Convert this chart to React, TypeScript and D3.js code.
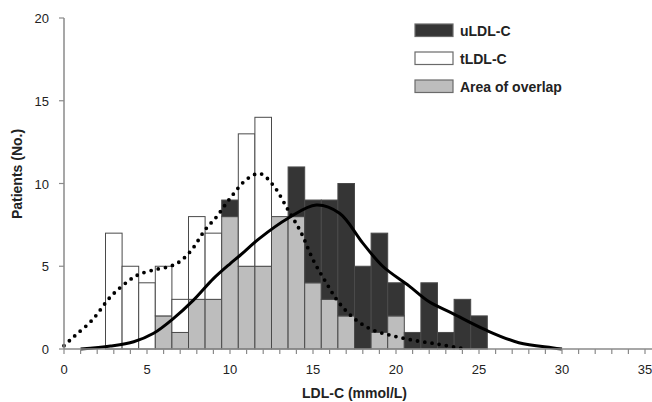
import React, { useRef, useEffect } from 'react';
import * as d3 from 'd3';

// histogram bins (bin centres, mmol/L) and patient counts per group
const bins = [3, 4, 5, 6, 7, 8, 9, 10, 11, 12, 13, 14, 15, 16, 17, 18, 19, 20, 21, 22, 23, 24, 25];
const uLDL = [0, 0, 0, 2, 1, 3, 3, 9, 5, 5, 8, 11, 9, 9, 10, 5, 7, 4, 1, 4, 1, 3, 2];
const tLDL = [7, 5, 4, 5, 3, 8, 7, 8, 13, 14, 8, 8, 4, 3, 2, 0, 1, 2, 0, 0, 0, 0, 0];

// fitted distribution curves
const tCurveX = [0, 0.6, 1.7, 2.8, 3.8, 4.5, 5.5, 6.4, 7.0, 7.7, 8.5, 9.2, 10.0, 11.0, 11.8, 12.6, 13.5, 14.3, 15.0, 15.8, 16.6, 17.6, 18.6, 19.8, 21.2, 22.5, 23.6, 24.0];
const tCurveY = [0.2, 0.75, 1.75, 3.15, 4.05, 4.5, 4.8, 5.0, 5.3, 6.0, 7.2, 8.0, 9.1, 10.25, 10.6, 9.9, 8.4, 7.0, 5.4, 4.0, 2.75, 1.75, 1.15, 0.8, 0.5, 0.3, 0.1, 0.03];
const uCurveX = [1.0, 2.8, 4.2, 5.4, 6.6, 7.8, 9.0, 10.0, 10.6, 11.8, 13.5, 15.2, 16.6, 18.0, 19.2, 20.8, 22.0, 23.4, 25.4, 27.4, 29.4, 30.0];
const uCurveY = [0, 0.18, 0.44, 0.95, 1.85, 2.95, 4.25, 5.15, 5.65, 6.7, 7.9, 8.7, 8.2, 6.4, 5.0, 3.8, 2.85, 2.15, 1.15, 0.38, 0.08, 0];

const xTicks = [0, 5, 10, 15, 20, 25, 30, 35];
const yTicks = [0, 5, 10, 15, 20];

const legendItems = [
  { label: 'uLDL-C', fill: '#353535' },
  { label: 'tLDL-C', fill: '#ffffff' },
  { label: 'Area of overlap', fill: '#bdbdbd' },
];

const W = 652;
const H = 402;
const FONT = '"Liberation Sans", Arial, sans-serif';

const App = () => {
  const svgRef = useRef<SVGSVGElement>(null);

  useEffect(() => {
    document.body.style.margin = '0';
    const svg = d3.select(svgRef.current);
    svg.selectAll('*').remove();

    const x = d3.scaleLinear().domain([0, 35]).range([64, 645]);
    const y = d3.scaleLinear().domain([0, 20]).range([349, 18]);
    const half = 0.5;

    // bars: grey overlap first, then the excess of whichever group is larger
    const rows = bins.map((b, i) => ({ b, u: uLDL[i], t: tLDL[i], lo: Math.min(uLDL[i], tLDL[i]) }));
    const g = svg.append('g');
    const drawRect = (b: number, y0: number, y1: number, fill: string) => {
      if (y1 <= y0) return;
      g.append('rect')
        .attr('x', x(b - half))
        .attr('width', x(b + half) - x(b - half))
        .attr('y', y(y1))
        .attr('height', y(y0) - y(y1))
        .attr('fill', fill)
        .attr('stroke', '#4a4a4a')
        .attr('stroke-width', 1);
    };
    rows.forEach(r => {
      drawRect(r.b, 0, r.lo, '#bdbdbd');
      if (r.u > r.t) drawRect(r.b, r.lo, r.u, '#353535');
      if (r.t > r.u) drawRect(r.b, r.lo, r.t, '#ffffff');
    });

    const line = d3.line<[number, number]>()
      .x(d => x(d[0]))
      .y(d => y(d[1]))
      .curve(d3.curveCatmullRom.alpha(0.5));

    // tLDL-C curve (dotted)
    svg.append('path')
      .attr('d', line(tCurveX.map((v, i) => [v, tCurveY[i]] as [number, number])))
      .attr('fill', 'none')
      .attr('stroke', '#000')
      .attr('stroke-width', 3.8)
      .attr('stroke-linecap', 'round')
      .attr('stroke-dasharray', '0 7.3');

    // uLDL-C curve (solid)
    svg.append('path')
      .attr('d', line(uCurveX.map((v, i) => [v, uCurveY[i]] as [number, number])))
      .attr('fill', 'none')
      .attr('stroke', '#000')
      .attr('stroke-width', 3);

    // x axis with a minor tick at every unit
    const xAxis = svg.append('g').attr('transform', 'translate(0,349)');
    xAxis.append('line')
      .attr('x1', x(0)).attr('x2', W)
      .attr('stroke', '#8a8a8a').attr('stroke-width', 1.5);
    xAxis.selectAll('line.tick')
      .data(d3.range(0, 36))
      .enter().append('line')
      .attr('class', 'tick')
      .attr('x1', d => x(d)).attr('x2', d => x(d))
      .attr('y1', 0).attr('y2', 5)
      .attr('stroke', '#8a8a8a').attr('stroke-width', 1.2);
    xAxis.selectAll('text')
      .data(xTicks)
      .enter().append('text')
      .attr('x', d => x(d))
      .attr('y', 25)
      .attr('text-anchor', 'middle')
      .style('font-family', FONT)
      .style('font-size', '13px')
      .attr('fill', '#222')
      .text(d => d);

    // y axis
    const yAxis = svg.append('g').attr('transform', 'translate(64,0)');
    yAxis.append('line')
      .attr('y1', y(0)).attr('y2', y(20))
      .attr('stroke', '#8a8a8a').attr('stroke-width', 1.5);
    yAxis.selectAll('line.tick')
      .data(yTicks)
      .enter().append('line')
      .attr('class', 'tick')
      .attr('x1', -5).attr('x2', 0)
      .attr('y1', d => y(d)).attr('y2', d => y(d))
      .attr('stroke', '#8a8a8a').attr('stroke-width', 1.2);
    yAxis.selectAll('text')
      .data(yTicks)
      .enter().append('text')
      .attr('x', -15)
      .attr('y', d => y(d) + 5)
      .attr('text-anchor', 'end')
      .style('font-family', FONT)
      .style('font-size', '13px')
      .attr('fill', '#222')
      .text(d => d);

    // axis titles
    svg.append('text')
      .attr('x', x(17.5))
      .attr('y', 398)
      .attr('text-anchor', 'middle')
      .style('font-family', FONT)
      .style('font-size', '14px')
      .style('font-weight', 'bold')
      .attr('fill', '#222')
      .text('LDL-C (mmol/L)');
    svg.append('text')
      .attr('transform', 'translate(22,174) rotate(-90)')
      .attr('text-anchor', 'middle')
      .style('font-family', FONT)
      .style('font-size', '14px')
      .style('font-weight', 'bold')
      .attr('fill', '#222')
      .text('Patients (No.)');

    // legend
    const legend = svg.append('g').attr('transform', 'translate(415,24)');
    legendItems.forEach((item, i) => {
      const row = legend.append('g').attr('transform', `translate(0,${i * 28})`);
      row.append('rect')
        .attr('width', 38).attr('height', 12.5)
        .attr('fill', item.fill)
        .attr('stroke', '#6a6a6a').attr('stroke-width', 1.2);
      row.append('text')
        .attr('x', 45).attr('y', 12)
        .style('font-family', FONT)
        .style('font-size', '14px')
        .style('font-weight', 'bold')
        .attr('fill', '#222')
        .text(item.label);
    });
  }, []);

  return (
    <div>
      <svg ref={svgRef} width={W} height={H} style={{ display: 'block', background: '#fff' }}></svg>
    </div>
  );
};

export default App;
